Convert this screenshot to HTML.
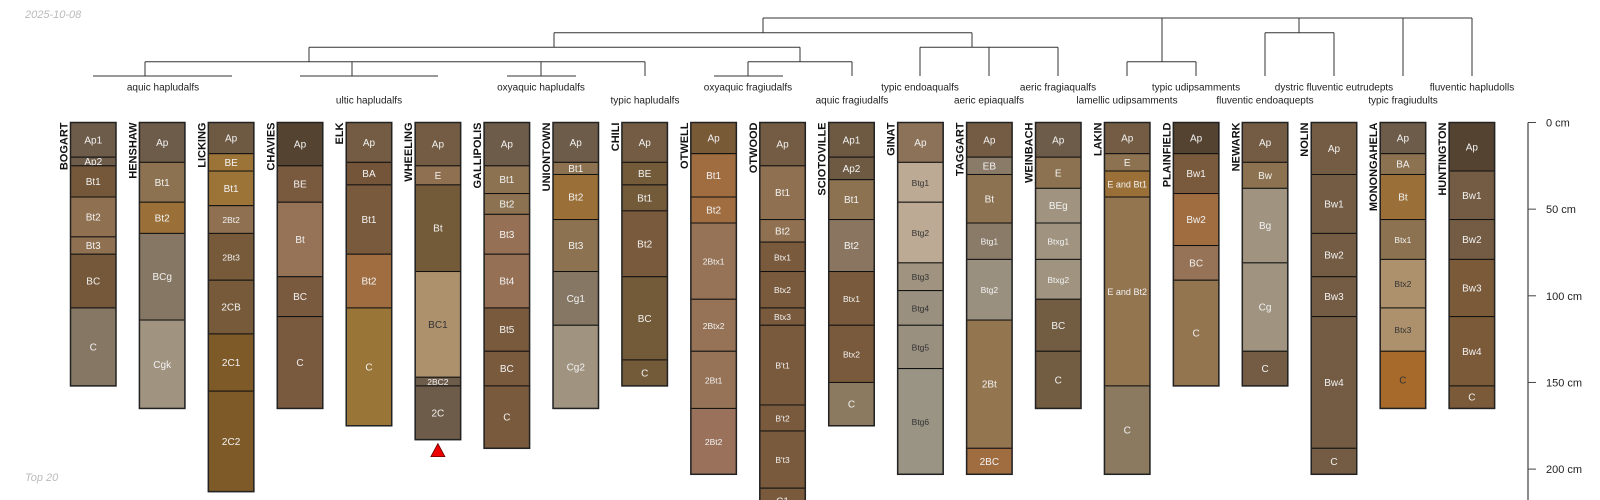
<!DOCTYPE html>
<html><head><meta charset="utf-8"><style>
body{margin:0;background:#fff;width:1600px;height:500px;overflow:hidden}
svg{display:block;font-family:"Liberation Sans",sans-serif}
</style></head><body>
<svg id="chart" width="1600" height="500">
<text x="25" y="18" font-size="11" font-style="italic" fill="#bbb">2025-10-08</text>
<text x="25" y="481" font-size="11" font-style="italic" fill="#bbb">Top 20</text>
<g id="dendro" stroke="#333" stroke-width="1" fill="none"></g>
<g id="taxa" font-size="10" fill="#222" text-anchor="middle"></g>
<g id="profiles"></g>
<g id="axis"></g>
</svg>
<script>
const profileNames=["BOGART","HENSHAW","LICKING","CHAVIES","ELK","WHEELING","GALLIPOLIS","UNIONTOWN","CHILI","OTWELL","OTWOOD","SCIOTOVILLE","GINAT","TAGGART","WEINBACH","LAKIN","PLAINFIELD","NEWARK","NOLIN","MONONGAHELA","HUNTINGTON"];
const horizonNames=[
["Ap1","Ap2","Bt1","Bt2","Bt3","BC","C"],
["Ap","Bt1","Bt2","BCg","Cgk"],
["Ap","BE","Bt1","2Bt2","2Bt3","2CB","2C1","2C2"],
["Ap","BE","Bt","BC","C"],
["Ap","BA","Bt1","Bt2","C"],
["Ap","E","Bt","BC1","2BC2","2C"],
["Ap","Bt1","Bt2","Bt3","Bt4","Bt5","BC","C"],
["Ap","Bt1","Bt2","Bt3","Cg1","Cg2"],
["Ap","BE","Bt1","Bt2","BC","C"],
["Ap","Bt1","Bt2","2Btx1","2Btx2","2Bt1","2Bt2"],
["Ap","Bt1","Bt2","Btx1","Btx2","Btx3","B't1","B't2","B't3","C1"],
["Ap1","Ap2","Bt1","Bt2","Btx1","Btx2","C"],
["Ap","Btg1","Btg2","Btg3","Btg4","Btg5","Btg6"],
["Ap","EB","Bt","Btg1","Btg2","2Bt","2BC"],
["Ap","E","BEg","Btxg1","Btxg2","BC","C"],
["Ap","E","E and Bt1","E and Bt2","C"],
["Ap","Bw1","Bw2","BC","C"],
["Ap","Bw","Bg","Cg","C"],
["Ap","Bw1","Bw2","Bw3","Bw4","C"],
["Ap","BA","Bt","Btx1","Btx2","Btx3","C"],
["Ap","Bw1","Bw2","Bw3","Bw4","C"]];
const horizonBottoms=[
[20,25,43,66,76,107,152],
[23,46,64,114,165],
[18,28,48,64,91,122,155,213],
[25,46,89,112,165],
[23,36,76,107,175],
[25,36,86,147,152,183],
[25,41,53,76,107,132,152,188],
[23,30,56,86,117,165],
[23,36,51,89,137,152],
[18,43,58,102,132,165,203],
[25,56,69,86,107,117,163,178,211,226],
[20,33,56,86,117,150,175],
[23,46,81,97,117,142,203],
[20,30,58,79,114,188,203],
[20,38,58,79,102,132,165],
[18,28,43,152,203],
[18,41,71,91,152],
[23,38,81,132,152],
[30,64,89,112,188,203],
[18,30,56,79,107,132,165],
[28,56,79,112,152,165]];
const horizonColors=[
["#6e5c4a","#6e5c4a","#75583a","#8f7050","#8f7050","#75583a","#857763"],
["#6e5c4a","#8c7250","#9a7038","#857763","#a09480"],
["#6e5a42","#9c7438","#9c7438","#8f7050","#775a3a","#775a3a","#7e5a28","#7e5a28"],
["#544330","#7a5a3e","#967356","#7a5a3e","#7a5a3e"],
["#735c43","#755539","#7a5a3c","#a06d40","#9a7538"],
["#735c43","#8f7050","#735a38","#ad916c","#6e5c4a","#6e5c4a"],
["#6e5c4a","#8c7250","#8c7250","#967055","#967055","#7a5a3c","#7a5a3c","#7a5a3c"],
["#6e5c4a","#8c7250","#9a7038","#8c7250","#857763","#a09480"],
["#735c43","#735a38","#735a38","#7a5a3c","#735a38","#735a38"],
["#795a36","#a06d40","#a06d40","#967356","#967356","#967356","#9a725c"],
["#735c43","#8f7050","#8f7050","#7a5a3c","#7a5a3c","#7a5a3c","#7a5a3c","#7a5a3c","#7a5a3c","#7a5a3c"],
["#6e5a42","#6e5a42","#8c7250","#8a7560","#7a5a3c","#7a5a3c","#8c7a60"],
["#8c7258","#bdaa94","#bdaa94","#a09480","#9a9080","#9a9080","#999484"],
["#735c43","#8a7a68","#8c7250","#8a7a68","#9a9080","#937550","#a06d40"],
["#6e5c4a","#8c7250","#a09480","#a09480","#a09480","#725c42","#725c42"],
["#735c43","#8c7250","#9a7038","#937550","#8c7a60"],
["#544330","#7a5a3c","#a06d40","#967356","#937550"],
["#735c43","#8c7250","#a09480","#a09480","#735c43"],
["#735c43","#735c43","#735c43","#735c43","#735c43","#735c43"],
["#6e5c4a","#8c7250","#9a7038","#8c7250","#ad916c","#ad916c","#a86a2a"],
["#544330","#735c43","#735c43","#7a5a38","#7a5a38","#7a5a38"]];
const darkText={WHEELING:["BC1"],GINAT:["Btg1","Btg2","Btg3","Btg4","Btg5","Btg6"],MONONGAHELA:["Btx2","Btx3","C"]};
const depthTicks=[0,50,100,150,200];
const taxaNames=["aquic hapludalfs","ultic hapludalfs","oxyaquic hapludalfs","typic hapludalfs","oxyaquic fragiudalfs","aquic fragiudalfs","typic endoaqualfs","aeric epiaqualfs","aeric fragiaqualfs","lamellic udipsamments","typic udipsamments","fluventic endoaquepts","dystric fluventic eutrudepts","typic fragiudults","fluventic hapludolls"];

const NS="http://www.w3.org/2000/svg";
const top0=122.5, pxcm=1.733, x0=70.5, step=68.93, w=45.5;
const yScale=d=>top0+d*pxcm;
const xPos=i=>x0+i*step;
function mk(tag,attrs,parent){const e=document.createElementNS(NS,tag);for(const k in attrs)e.setAttribute(k,attrs[k]);parent.appendChild(e);return e;}

const pg=document.getElementById('profiles');
profileNames.forEach((nm,i)=>{
  const g=mk('g',{},pg);
  
  
  const x=xPos(i);
  const t=mk('text',{transform:`translate(${x-3},${top0}) rotate(-90)`,'text-anchor':'end','font-size':'11','font-weight':'bold',fill:'#111'},g);
  t.textContent=nm;
  
  
  let prev=0;
  horizonNames[i].forEach((h,j)=>{
    const b=horizonBottoms[i][j];
    const y1=yScale(prev), y2=yScale(b);
    const r=mk('rect',{x:x,y:y1,width:w,height:y2-y1,fill:horizonColors[i][j],stroke:'#111','stroke-width':'1'},g);
    
    
    const dark=(darkText[nm]||[]).includes(h);
    let fs=10;
    if(h.length>=4)fs=8.5;
    if(h.startsWith('E and'))fs=9;
    const tt=mk('text',{x:x+w/2,y:(y1+y2)/2+3.5,'text-anchor':'middle','font-size':fs,fill:dark?'#333':'#f2f2f2'},g);
    tt.textContent=h;
    
    
    prev=b;
  });
  mk('rect',{x:x,y:top0,width:w,height:yScale(prev)-top0,fill:'none',stroke:'#222','stroke-width':'1.5'},g);
  if(nm==='WHEELING'){
    const yb=yScale(prev)+3,cx=x+w/2;
    const tri=mk('polygon',{points:`${cx-7},${yb+14} ${cx+7},${yb+14} ${cx},${yb+1}`,fill:'#ee0000',stroke:'#600','stroke-width':'0.8'},g);
    
    
  }
});

// axis
const ax=document.getElementById('axis');
const axX=1528;
mk('line',{x1:axX,y1:top0,x2:axX,y2:500,stroke:'#666','stroke-width':'1.5'},ax);
depthTicks.forEach(d=>{
  const y=yScale(d);
  const tk=mk('line',{x1:axX,y1:y,x2:axX+8,y2:y,stroke:'#444','stroke-width':'1'},ax);
  
  
  const t=mk('text',{x:axX+18,y:y+4,'font-size':'11',fill:'#222'},ax);
  t.textContent=d+' cm';
  
  
});

// dendrogram segments (structural layout)
const dg=document.getElementById('dendro');
const L0=18,L1=32.7,L2=47.3,L3=61.7,L4=76;
const segs=[
[763,L0,1472,L0],[763,L0,763,L1],[1162,L0,1162,L3],[1299,L0,1299,L1],[1403,L0,1403,L4],[1472,L0,1472,L4],
[554,L1,972,L1],[554,L1,554,L2],[972,L1,972,L2],[1265,L1,1334,L1],[1265,L1,1265,L4],[1334,L1,1334,L4],
[309,L2,800,L2],[309,L2,309,L3],[800,L2,800,L3],[920,L2,1058,L2],[920,L2,920,L4],[989,L2,989,L4],[1058,L2,1058,L4],
[145,L3,645,L3],[145,L3,145,L4],[352,L3,352,L4],[541,L3,541,L4],[645,L3,645,L4],
[748,L3,852,L3],[748,L3,748,L4],[852,L3,852,L4],[1127,L3,1196,L3],[1127,L3,1127,L4],[1196,L3,1196,L4],
[93,L4,232,L4],[300,L4,438,L4],[507,L4,576,L4],[714,L4,783,L4]];
segs.forEach(s=>{const l=mk('line',{x1:s[0],y1:s[1],x2:s[2],y2:s[3]},dg);

});
const tg=document.getElementById('taxa');
const taxaPos=[[163,87],[369,100],[541,87],[645,100],[748,87],[852,100],[920,87],[989,100],[1058,87],[1127,100],[1196,87],[1265,100],[1334,87],[1403,100],[1472,87]];
taxaNames.forEach((n,i)=>{const t=mk('text',{x:taxaPos[i][0],y:taxaPos[i][1]+3.5},tg);t.textContent=n;

});
</script>
</body></html>
